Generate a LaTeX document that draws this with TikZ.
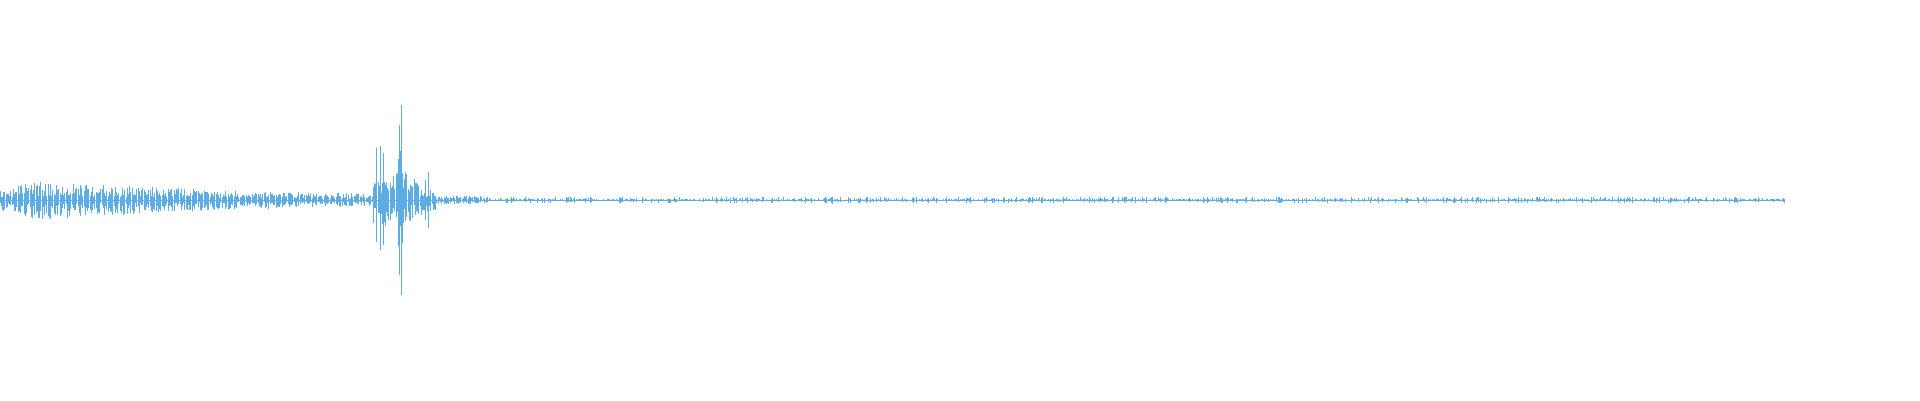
\documentclass[tikz,border=0pt]{standalone}
\begin{document}
\begin{tikzpicture}[x=1pt,y=-1pt,wave/.style={line width=0.7pt,draw=wavec}]
\definecolor{wavec}{HTML}{5DADE2}
\useasboundingbox (0,0) rectangle (1920,400);
\pgfmathsetseed{7}
\draw[wave] (0,200) -- (1785,200);
\foreach \x in {0,1.2,...,1785}{
  \ifdim\x pt<372pt
    \pgfmathsetmacro{\A}{(\x<40 ? (8+0.25*\x) : 18*exp(-(\x-40)/230))+2}
  \else\ifdim\x pt<390pt
    \def\A{26}
  \else\ifdim\x pt<412pt
    \pgfmathsetmacro{\A}{60*exp(-abs(\x-401)/5)+12}
  \else\ifdim\x pt<436pt
    \pgfmathsetmacro{\A}{18*exp(-(\x-412)/15)+6}
  \else\ifdim\x pt<480pt
    \def\A{4.5}
  \else
    \pgfmathsetmacro{\A}{rnd<0.35 ? 3.5 : 0.8}
  \fi\fi\fi\fi\fi
  \pgfmathsetmacro{\a}{\A*(0.2+0.8*rnd)}
  \pgfmathsetmacro{\b}{\A*(0.2+0.8*rnd)}
  \draw[wave] (\x,200-\a) -- (\x,200+\b);
}
\draw[wave] (401,105) -- (401,295);
\draw[wave] (399,125) -- (399,275);
\draw[wave] (376,148) -- (376,242);
\draw[wave] (380,146) -- (380,250);
\draw[wave] (383,153) -- (383,245);
\draw[wave] (428,172) -- (428,228);
\draw[wave] (425,180) -- (425,220);
\end{tikzpicture}
\end{document}
